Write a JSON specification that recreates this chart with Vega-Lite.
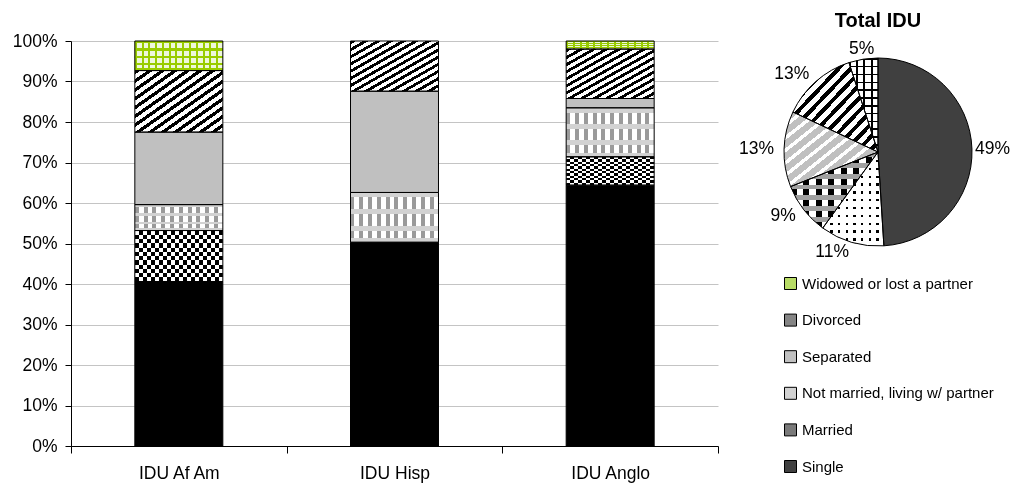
{
"$schema": "https://vega.github.io/schema/vega-lite/v6.json",
"padding": {"left": 12, "top": 11, "right": 0, "bottom": 2},
"background": "white",
"config": {"view": {"stroke": null}, "font": "Liberation Sans"},
"bounds": "flush",
"spacing": 49,
"resolve": {"scale": {"color": "independent"}, "legend": {"color": "independent"}},
"datasets": {
"bars": [
{"g":"IDU Af Am","s":"Single","k":1,"v":40.6},
{"g":"IDU Af Am","s":"Married","k":2,"v":12.6},
{"g":"IDU Af Am","s":"Not married, living w/ partner","k":3,"v":6.4},
{"g":"IDU Af Am","s":"Separated","k":4,"v":17.9},
{"g":"IDU Af Am","s":"Divorced","k":5,"v":15.2},
{"g":"IDU Af Am","s":"Widowed or lost a partner","k":6,"v":7.3},
{"g":"IDU Hisp","s":"Single","k":1,"v":50.3},
{"g":"IDU Hisp","s":"Not married, living w/ partner","k":3,"v":12.3},
{"g":"IDU Hisp","s":"Separated","k":4,"v":25.0},
{"g":"IDU Hisp","s":"Divorced","k":5,"v":12.4},
{"g":"IDU Anglo","s":"Single","k":1,"v":64.4},
{"g":"IDU Anglo","s":"Married","k":2,"v":7.0},
{"g":"IDU Anglo","s":"Not married, living w/ partner","k":3,"v":12.1},
{"g":"IDU Anglo","s":"Separated","k":4,"v":2.3},
{"g":"IDU Anglo","s":"Divorced","k":5,"v":12.2},
{"g":"IDU Anglo","s":"Widowed or lost a partner","k":6,"v":2.0}
],
"pie": [
{"s":"Single","k":1,"v":49},
{"s":"Married","k":2,"v":11},
{"s":"Not married, living w/ partner","k":3,"v":9},
{"s":"Separated","k":4,"v":13},
{"s":"Divorced","k":5,"v":13},
{"s":"Widowed or lost a partner","k":6,"v":5}
]
},
"hconcat": [
{
"width": 647,
"height": 405,
"data": {"name": "bars"},
"transform": [{"stack": "v", "groupby": ["g"], "sort": [{"field": "k", "order": "ascending"}], "as": ["y0", "y1"]}],
"encoding": {
"x": {"field": "g", "type": "nominal", "sort": ["IDU Af Am", "IDU Hisp", "IDU Anglo"],
"scale": {"paddingInner": 0, "paddingOuter": 0},
"axis": {"title": null, "labelAngle": 0, "tickBand": "extent", "tickSize": 7, "tickColor": "#000", "domainColor": "#000", "labelColor": "#000", "labelFontSize": 17.5, "labelPadding": 11, "grid": false}},
"y": {"field": "y0", "type": "quantitative", "scale": {"domain": [0, 100], "nice": false},
"axis": {"title": null, "values": [0,10,20,30,40,50,60,70,80,90,100], "labelExpr": "datum.value + '%'", "grid": true, "gridColor": "#c4c4c4", "tickColor": "#000", "domainColor": "#000", "tickSize": 6, "labelColor": "#000", "labelFontSize": 17.5, "labelPadding": 8}},
"y2": {"field": "y1"}
},
"layer": [
{"mark": {"type": "bar", "stroke": null, "width": {"band": 0.408}},
"encoding": {"color": {"field": "s", "type": "nominal", "legend": null,
"scale": {"domain": ["Single", "Married", "Not married, living w/ partner", "Separated", "Divorced", "Widowed or lost a partner"],
"range": ["#000000", "#ffffff", "#ffffff", "#c0c0c0", "#ffffff", "#eef7dc"]}}}},
{"transform": [{"filter": "datum.s === 'Divorced'"}],
"mark": {"type": "bar", "stroke": null, "width": {"band": 0.408}, "fill": {"gradient":"linear","x1":0,"y1":0,"x2":1,"y2":1,"stops":[
{"offset":0,"color":"#000"},{"offset":0.0321,"color":"#000"},{"offset":0.0321,"color":"#fff"},{"offset":0.0714,"color":"#fff"},
{"offset":0.0714,"color":"#000"},{"offset":0.1036,"color":"#000"},{"offset":0.1036,"color":"#fff"},{"offset":0.1429,"color":"#fff"},
{"offset":0.1429,"color":"#000"},{"offset":0.175,"color":"#000"},{"offset":0.175,"color":"#fff"},{"offset":0.2143,"color":"#fff"},
{"offset":0.2143,"color":"#000"},{"offset":0.2464,"color":"#000"},{"offset":0.2464,"color":"#fff"},{"offset":0.2857,"color":"#fff"},
{"offset":0.2857,"color":"#000"},{"offset":0.3179,"color":"#000"},{"offset":0.3179,"color":"#fff"},{"offset":0.3571,"color":"#fff"},
{"offset":0.3571,"color":"#000"},{"offset":0.3893,"color":"#000"},{"offset":0.3893,"color":"#fff"},{"offset":0.4286,"color":"#fff"},
{"offset":0.4286,"color":"#000"},{"offset":0.4607,"color":"#000"},{"offset":0.4607,"color":"#fff"},{"offset":0.5,"color":"#fff"},
{"offset":0.5,"color":"#000"},{"offset":0.5321,"color":"#000"},{"offset":0.5321,"color":"#fff"},{"offset":0.5714,"color":"#fff"},
{"offset":0.5714,"color":"#000"},{"offset":0.6036,"color":"#000"},{"offset":0.6036,"color":"#fff"},{"offset":0.6429,"color":"#fff"},
{"offset":0.6429,"color":"#000"},{"offset":0.675,"color":"#000"},{"offset":0.675,"color":"#fff"},{"offset":0.7143,"color":"#fff"},
{"offset":0.7143,"color":"#000"},{"offset":0.7464,"color":"#000"},{"offset":0.7464,"color":"#fff"},{"offset":0.7857,"color":"#fff"},
{"offset":0.7857,"color":"#000"},{"offset":0.8179,"color":"#000"},{"offset":0.8179,"color":"#fff"},{"offset":0.8571,"color":"#fff"},
{"offset":0.8571,"color":"#000"},{"offset":0.8893,"color":"#000"},{"offset":0.8893,"color":"#fff"},{"offset":0.9286,"color":"#fff"},
{"offset":0.9286,"color":"#000"},{"offset":0.9607,"color":"#000"},{"offset":0.9607,"color":"#fff"},{"offset":1,"color":"#fff"}]}}},
{"transform": [{"filter": "datum.s === 'Widowed or lost a partner'"}],
"mark": {"type": "bar", "stroke": null, "width": {"band": 0.408}, "fill": {"gradient":"linear","x1":0,"y1":0,"x2":1,"y2":0,"stops":[
{"offset":0,"color":"#99cc00"},{"offset":0.0231,"color":"#99cc00"},{"offset":0.0231,"color":"rgba(0,0,0,0)"},{"offset":0.0769,"color":"rgba(0,0,0,0)"},
{"offset":0.0769,"color":"#99cc00"},{"offset":0.1,"color":"#99cc00"},{"offset":0.1,"color":"rgba(0,0,0,0)"},{"offset":0.1538,"color":"rgba(0,0,0,0)"},
{"offset":0.1538,"color":"#99cc00"},{"offset":0.1769,"color":"#99cc00"},{"offset":0.1769,"color":"rgba(0,0,0,0)"},{"offset":0.2308,"color":"rgba(0,0,0,0)"},
{"offset":0.2308,"color":"#99cc00"},{"offset":0.2538,"color":"#99cc00"},{"offset":0.2538,"color":"rgba(0,0,0,0)"},{"offset":0.3077,"color":"rgba(0,0,0,0)"},
{"offset":0.3077,"color":"#99cc00"},{"offset":0.3308,"color":"#99cc00"},{"offset":0.3308,"color":"rgba(0,0,0,0)"},{"offset":0.3846,"color":"rgba(0,0,0,0)"},
{"offset":0.3846,"color":"#99cc00"},{"offset":0.4077,"color":"#99cc00"},{"offset":0.4077,"color":"rgba(0,0,0,0)"},{"offset":0.4615,"color":"rgba(0,0,0,0)"},
{"offset":0.4615,"color":"#99cc00"},{"offset":0.4846,"color":"#99cc00"},{"offset":0.4846,"color":"rgba(0,0,0,0)"},{"offset":0.5385,"color":"rgba(0,0,0,0)"},
{"offset":0.5385,"color":"#99cc00"},{"offset":0.5615,"color":"#99cc00"},{"offset":0.5615,"color":"rgba(0,0,0,0)"},{"offset":0.6154,"color":"rgba(0,0,0,0)"},
{"offset":0.6154,"color":"#99cc00"},{"offset":0.6385,"color":"#99cc00"},{"offset":0.6385,"color":"rgba(0,0,0,0)"},{"offset":0.6923,"color":"rgba(0,0,0,0)"},
{"offset":0.6923,"color":"#99cc00"},{"offset":0.7154,"color":"#99cc00"},{"offset":0.7154,"color":"rgba(0,0,0,0)"},{"offset":0.7692,"color":"rgba(0,0,0,0)"},
{"offset":0.7692,"color":"#99cc00"},{"offset":0.7923,"color":"#99cc00"},{"offset":0.7923,"color":"rgba(0,0,0,0)"},{"offset":0.8462,"color":"rgba(0,0,0,0)"},
{"offset":0.8462,"color":"#99cc00"},{"offset":0.8692,"color":"#99cc00"},{"offset":0.8692,"color":"rgba(0,0,0,0)"},{"offset":0.9231,"color":"rgba(0,0,0,0)"},
{"offset":0.9231,"color":"#99cc00"},{"offset":0.9462,"color":"#99cc00"},{"offset":0.9462,"color":"rgba(0,0,0,0)"},{"offset":1,"color":"rgba(0,0,0,0)"}]}}},
{"transform": [{"filter": "datum.s === 'Widowed or lost a partner'"}],
"mark": {"type": "bar", "stroke": null, "width": {"band": 0.408}, "fill": {"gradient":"linear","x1":0,"y1":0,"x2":0,"y2":1,"stops":[
{"offset":0,"color":"#99cc00"},{"offset":0.075,"color":"#99cc00"},{"offset":0.075,"color":"rgba(0,0,0,0)"},{"offset":0.25,"color":"rgba(0,0,0,0)"},
{"offset":0.25,"color":"#99cc00"},{"offset":0.325,"color":"#99cc00"},{"offset":0.325,"color":"rgba(0,0,0,0)"},{"offset":0.5,"color":"rgba(0,0,0,0)"},
{"offset":0.5,"color":"#99cc00"},{"offset":0.575,"color":"#99cc00"},{"offset":0.575,"color":"rgba(0,0,0,0)"},{"offset":0.75,"color":"rgba(0,0,0,0)"},
{"offset":0.75,"color":"#99cc00"},{"offset":0.825,"color":"#99cc00"},{"offset":0.825,"color":"rgba(0,0,0,0)"},{"offset":0.93,"color":"rgba(0,0,0,0)"},
{"offset":0.93,"color":"#99cc00"},{"offset":1,"color":"#99cc00"}]}}},
{"transform": [{"filter": "datum.s === 'Not married, living w/ partner'"}],
"mark": {"type": "bar", "stroke": null, "width": {"band": 0.408}, "fill": {"gradient":"linear","x1":0,"y1":0,"x2":1,"y2":0,"stops":[
{"offset":0,"color":"#9a9a9a"},{"offset":0.045,"color":"#9a9a9a"},{"offset":0.045,"color":"#fff"},{"offset":0.1,"color":"#fff"},
{"offset":0.1,"color":"#9a9a9a"},{"offset":0.145,"color":"#9a9a9a"},{"offset":0.145,"color":"#fff"},{"offset":0.2,"color":"#fff"},
{"offset":0.2,"color":"#9a9a9a"},{"offset":0.245,"color":"#9a9a9a"},{"offset":0.245,"color":"#fff"},{"offset":0.3,"color":"#fff"},
{"offset":0.3,"color":"#9a9a9a"},{"offset":0.345,"color":"#9a9a9a"},{"offset":0.345,"color":"#fff"},{"offset":0.4,"color":"#fff"},
{"offset":0.4,"color":"#9a9a9a"},{"offset":0.445,"color":"#9a9a9a"},{"offset":0.445,"color":"#fff"},{"offset":0.5,"color":"#fff"},
{"offset":0.5,"color":"#9a9a9a"},{"offset":0.545,"color":"#9a9a9a"},{"offset":0.545,"color":"#fff"},{"offset":0.6,"color":"#fff"},
{"offset":0.6,"color":"#9a9a9a"},{"offset":0.645,"color":"#9a9a9a"},{"offset":0.645,"color":"#fff"},{"offset":0.7,"color":"#fff"},
{"offset":0.7,"color":"#9a9a9a"},{"offset":0.745,"color":"#9a9a9a"},{"offset":0.745,"color":"#fff"},{"offset":0.8,"color":"#fff"},
{"offset":0.8,"color":"#9a9a9a"},{"offset":0.845,"color":"#9a9a9a"},{"offset":0.845,"color":"#fff"},{"offset":0.9,"color":"#fff"},
{"offset":0.9,"color":"#9a9a9a"},{"offset":0.945,"color":"#9a9a9a"},{"offset":0.945,"color":"#fff"},{"offset":1,"color":"#fff"}]}}},
{"transform": [{"filter": "datum.s === 'Not married, living w/ partner'"}],
"mark": {"type": "bar", "stroke": null, "width": {"band": 0.408}, "fill": {"gradient":"linear","x1":0,"y1":0,"x2":0,"y2":1,"stops":[
{"offset":0,"color":"#d2d2d2"},{"offset":0.1,"color":"#d2d2d2"},{"offset":0.1,"color":"rgba(0,0,0,0)"},{"offset":0.3333,"color":"rgba(0,0,0,0)"},
{"offset":0.3333,"color":"#d2d2d2"},{"offset":0.4333,"color":"#d2d2d2"},{"offset":0.4333,"color":"rgba(0,0,0,0)"},{"offset":0.6667,"color":"rgba(0,0,0,0)"},
{"offset":0.6667,"color":"#d2d2d2"},{"offset":0.7667,"color":"#d2d2d2"},{"offset":0.7667,"color":"rgba(0,0,0,0)"},{"offset":0.92,"color":"rgba(0,0,0,0)"},
{"offset":0.92,"color":"#d2d2d2"},{"offset":1,"color":"#d2d2d2"}]}}},
{"transform": [{"filter": "datum.s === 'Married'"}],
"mark": {"type": "bar", "stroke": null, "width": {"band": 0.408}, "fill": {"gradient":"linear","x1":0,"y1":0,"x2":1,"y2":0,"stops":[
{"offset":0,"color":"#000"},{"offset":0.0455,"color":"#000"},{"offset":0.0455,"color":"#fff"},{"offset":0.0909,"color":"#fff"},
{"offset":0.0909,"color":"#000"},{"offset":0.1364,"color":"#000"},{"offset":0.1364,"color":"#fff"},{"offset":0.1818,"color":"#fff"},
{"offset":0.1818,"color":"#000"},{"offset":0.2273,"color":"#000"},{"offset":0.2273,"color":"#fff"},{"offset":0.2727,"color":"#fff"},
{"offset":0.2727,"color":"#000"},{"offset":0.3182,"color":"#000"},{"offset":0.3182,"color":"#fff"},{"offset":0.3636,"color":"#fff"},
{"offset":0.3636,"color":"#000"},{"offset":0.4091,"color":"#000"},{"offset":0.4091,"color":"#fff"},{"offset":0.4545,"color":"#fff"},
{"offset":0.4545,"color":"#000"},{"offset":0.5,"color":"#000"},{"offset":0.5,"color":"#fff"},{"offset":0.5455,"color":"#fff"},
{"offset":0.5455,"color":"#000"},{"offset":0.5909,"color":"#000"},{"offset":0.5909,"color":"#fff"},{"offset":0.6364,"color":"#fff"},
{"offset":0.6364,"color":"#000"},{"offset":0.6818,"color":"#000"},{"offset":0.6818,"color":"#fff"},{"offset":0.7273,"color":"#fff"},
{"offset":0.7273,"color":"#000"},{"offset":0.7727,"color":"#000"},{"offset":0.7727,"color":"#fff"},{"offset":0.8182,"color":"#fff"},
{"offset":0.8182,"color":"#000"},{"offset":0.8636,"color":"#000"},{"offset":0.8636,"color":"#fff"},{"offset":0.9091,"color":"#fff"},
{"offset":0.9091,"color":"#000"},{"offset":0.9545,"color":"#000"},{"offset":0.9545,"color":"#fff"},{"offset":1,"color":"#fff"}]}}},
{"transform": [{"filter": "datum.s === 'Married'"}],
"mark": {"type": "bar", "stroke": null, "width": {"band": 0.408}, "blend": "difference", "fill": {"gradient":"linear","x1":0,"y1":0,"x2":0,"y2":1,"stops":[
{"offset":0,"color":"#fff"},{"offset":0.0833,"color":"#fff"},{"offset":0.0833,"color":"rgba(0,0,0,0)"},{"offset":0.1667,"color":"rgba(0,0,0,0)"},
{"offset":0.1667,"color":"#fff"},{"offset":0.25,"color":"#fff"},{"offset":0.25,"color":"rgba(0,0,0,0)"},{"offset":0.3333,"color":"rgba(0,0,0,0)"},
{"offset":0.3333,"color":"#fff"},{"offset":0.4167,"color":"#fff"},{"offset":0.4167,"color":"rgba(0,0,0,0)"},{"offset":0.5,"color":"rgba(0,0,0,0)"},
{"offset":0.5,"color":"#fff"},{"offset":0.5833,"color":"#fff"},{"offset":0.5833,"color":"rgba(0,0,0,0)"},{"offset":0.6667,"color":"rgba(0,0,0,0)"},
{"offset":0.6667,"color":"#fff"},{"offset":0.75,"color":"#fff"},{"offset":0.75,"color":"rgba(0,0,0,0)"},{"offset":0.8333,"color":"rgba(0,0,0,0)"},
{"offset":0.8333,"color":"#fff"},{"offset":0.9167,"color":"#fff"},{"offset":0.9167,"color":"rgba(0,0,0,0)"},{"offset":1,"color":"rgba(0,0,0,0)"}]}}},
{"mark": {"type": "bar", "filled": false, "stroke": "#000", "strokeWidth": 1, "width": {"band": 0.408}}}
]
},
{
"width": 222,
"height": 222,
"data": {"name": "pie"},
"title": {"text": "Total IDU", "fontSize": 20, "fontWeight": "bold", "color": "#000", "anchor": "middle", "offset": 9},
"transform": [
{"stack": "v", "groupby": [], "sort": [{"field": "k", "order": "ascending"}], "as": ["p0", "p1"]},
{"calculate": "(datum.p0 + datum.p1) / 2", "as": "pm"},
{"calculate": "datum.v + '%'", "as": "lab"}
],
"layer": [
{
"encoding": {
"theta": {"field": "p0", "type": "quantitative", "stack": null, "scale": {"domain": [0, 100], "range": [0, 6.283185307]}},
"theta2": {"field": "p1"}
},
"layer": [
{"mark": {"type": "arc", "radius": 94, "stroke": null},
"encoding": {"color": {"field": "s", "type": "nominal",
"scale": {"domain": ["Widowed or lost a partner", "Divorced", "Separated", "Not married, living w/ partner", "Married", "Single"],
"range": ["#b8dc66", "#858585", "#c0c0c0", "#d2d2d2", "#7a7a7a", "#404040"]},
"legend": {"orient": "none", "legendX": 16, "legendY": 235, "title": null, "symbolType": "square", "symbolSize": 144, "symbolStrokeColor": "#000", "symbolStrokeWidth": 1, "symbolOpacity": 1, "labelFontSize": 15, "labelColor": "#000", "labelOffset": 4, "rowPadding": 19.6, "labelLimit": 400}}}},
{"transform": [{"filter": "datum.s === 'Separated'"}],
"mark": {"type": "arc", "radius": 94, "stroke": null, "fill": {"gradient":"linear","x1":0,"y1":0,"x2":1,"y2":1,"stops":[
{"offset":0,"color":"#fff"},{"offset":0.0292,"color":"#fff"},{"offset":0.0292,"color":"#c0c0c0"},{"offset":0.0833,"color":"#c0c0c0"},
{"offset":0.0833,"color":"#fff"},{"offset":0.1125,"color":"#fff"},{"offset":0.1125,"color":"#c0c0c0"},{"offset":0.1667,"color":"#c0c0c0"},
{"offset":0.1667,"color":"#fff"},{"offset":0.1958,"color":"#fff"},{"offset":0.1958,"color":"#c0c0c0"},{"offset":0.25,"color":"#c0c0c0"},
{"offset":0.25,"color":"#fff"},{"offset":0.2792,"color":"#fff"},{"offset":0.2792,"color":"#c0c0c0"},{"offset":0.3333,"color":"#c0c0c0"},
{"offset":0.3333,"color":"#fff"},{"offset":0.3625,"color":"#fff"},{"offset":0.3625,"color":"#c0c0c0"},{"offset":0.4167,"color":"#c0c0c0"},
{"offset":0.4167,"color":"#fff"},{"offset":0.4458,"color":"#fff"},{"offset":0.4458,"color":"#c0c0c0"},{"offset":0.5,"color":"#c0c0c0"},
{"offset":0.5,"color":"#fff"},{"offset":0.5292,"color":"#fff"},{"offset":0.5292,"color":"#c0c0c0"},{"offset":0.5833,"color":"#c0c0c0"},
{"offset":0.5833,"color":"#fff"},{"offset":0.6125,"color":"#fff"},{"offset":0.6125,"color":"#c0c0c0"},{"offset":0.6667,"color":"#c0c0c0"},
{"offset":0.6667,"color":"#fff"},{"offset":0.6958,"color":"#fff"},{"offset":0.6958,"color":"#c0c0c0"},{"offset":0.75,"color":"#c0c0c0"},
{"offset":0.75,"color":"#fff"},{"offset":0.7792,"color":"#fff"},{"offset":0.7792,"color":"#c0c0c0"},{"offset":0.8333,"color":"#c0c0c0"},
{"offset":0.8333,"color":"#fff"},{"offset":0.8625,"color":"#fff"},{"offset":0.8625,"color":"#c0c0c0"},{"offset":0.9167,"color":"#c0c0c0"},
{"offset":0.9167,"color":"#fff"},{"offset":0.9458,"color":"#fff"},{"offset":0.9458,"color":"#c0c0c0"},{"offset":1,"color":"#c0c0c0"}]}}},
{"transform": [{"filter": "datum.s === 'Divorced'"}],
"mark": {"type": "arc", "radius": 94, "stroke": null, "fill": {"gradient":"linear","x1":0,"y1":0,"x2":1,"y2":1,"stops":[
{"offset":0,"color":"#000"},{"offset":0.0321,"color":"#000"},{"offset":0.0321,"color":"#fff"},{"offset":0.0714,"color":"#fff"},
{"offset":0.0714,"color":"#000"},{"offset":0.1036,"color":"#000"},{"offset":0.1036,"color":"#fff"},{"offset":0.1429,"color":"#fff"},
{"offset":0.1429,"color":"#000"},{"offset":0.175,"color":"#000"},{"offset":0.175,"color":"#fff"},{"offset":0.2143,"color":"#fff"},
{"offset":0.2143,"color":"#000"},{"offset":0.2464,"color":"#000"},{"offset":0.2464,"color":"#fff"},{"offset":0.2857,"color":"#fff"},
{"offset":0.2857,"color":"#000"},{"offset":0.3179,"color":"#000"},{"offset":0.3179,"color":"#fff"},{"offset":0.3571,"color":"#fff"},
{"offset":0.3571,"color":"#000"},{"offset":0.3893,"color":"#000"},{"offset":0.3893,"color":"#fff"},{"offset":0.4286,"color":"#fff"},
{"offset":0.4286,"color":"#000"},{"offset":0.4607,"color":"#000"},{"offset":0.4607,"color":"#fff"},{"offset":0.5,"color":"#fff"},
{"offset":0.5,"color":"#000"},{"offset":0.5321,"color":"#000"},{"offset":0.5321,"color":"#fff"},{"offset":0.5714,"color":"#fff"},
{"offset":0.5714,"color":"#000"},{"offset":0.6036,"color":"#000"},{"offset":0.6036,"color":"#fff"},{"offset":0.6429,"color":"#fff"},
{"offset":0.6429,"color":"#000"},{"offset":0.675,"color":"#000"},{"offset":0.675,"color":"#fff"},{"offset":0.7143,"color":"#fff"},
{"offset":0.7143,"color":"#000"},{"offset":0.7464,"color":"#000"},{"offset":0.7464,"color":"#fff"},{"offset":0.7857,"color":"#fff"},
{"offset":0.7857,"color":"#000"},{"offset":0.8179,"color":"#000"},{"offset":0.8179,"color":"#fff"},{"offset":0.8571,"color":"#fff"},
{"offset":0.8571,"color":"#000"},{"offset":0.8893,"color":"#000"},{"offset":0.8893,"color":"#fff"},{"offset":0.9286,"color":"#fff"},
{"offset":0.9286,"color":"#000"},{"offset":0.9607,"color":"#000"},{"offset":0.9607,"color":"#fff"},{"offset":1,"color":"#fff"}]}}},
{"transform": [{"filter": "datum.s === 'Not married, living w/ partner'"}],
"mark": {"type": "arc", "radius": 94, "stroke": null, "fill": {"gradient":"linear","x1":0,"y1":0,"x2":1,"y2":0,"stops":[
{"offset":0,"color":"#000"},{"offset":0.0714,"color":"#000"},{"offset":0.0714,"color":"#fff"},{"offset":0.1429,"color":"#fff"},
{"offset":0.1429,"color":"#000"},{"offset":0.2143,"color":"#000"},{"offset":0.2143,"color":"#fff"},{"offset":0.2857,"color":"#fff"},
{"offset":0.2857,"color":"#000"},{"offset":0.3571,"color":"#000"},{"offset":0.3571,"color":"#fff"},{"offset":0.4286,"color":"#fff"},
{"offset":0.4286,"color":"#000"},{"offset":0.5,"color":"#000"},{"offset":0.5,"color":"#fff"},{"offset":0.5714,"color":"#fff"},
{"offset":0.5714,"color":"#000"},{"offset":0.6429,"color":"#000"},{"offset":0.6429,"color":"#fff"},{"offset":0.7143,"color":"#fff"},
{"offset":0.7143,"color":"#000"},{"offset":0.7857,"color":"#000"},{"offset":0.7857,"color":"#fff"},{"offset":0.8571,"color":"#fff"},
{"offset":0.8571,"color":"#000"},{"offset":0.9286,"color":"#000"},{"offset":0.9286,"color":"#fff"},{"offset":1,"color":"#fff"}]}}},
{"transform": [{"filter": "datum.s === 'Not married, living w/ partner'"}],
"mark": {"type": "arc", "radius": 94, "stroke": null, "fill": {"gradient":"linear","x1":0,"y1":0,"x2":0,"y2":1,"stops":[
{"offset":0,"color":"#a0a0a0"},{"offset":0.0643,"color":"#a0a0a0"},{"offset":0.0643,"color":"rgba(0,0,0,0)"},{"offset":0.1429,"color":"rgba(0,0,0,0)"},
{"offset":0.1429,"color":"#a0a0a0"},{"offset":0.2071,"color":"#a0a0a0"},{"offset":0.2071,"color":"rgba(0,0,0,0)"},{"offset":0.2857,"color":"rgba(0,0,0,0)"},
{"offset":0.2857,"color":"#a0a0a0"},{"offset":0.35,"color":"#a0a0a0"},{"offset":0.35,"color":"rgba(0,0,0,0)"},{"offset":0.4286,"color":"rgba(0,0,0,0)"},
{"offset":0.4286,"color":"#a0a0a0"},{"offset":0.4929,"color":"#a0a0a0"},{"offset":0.4929,"color":"rgba(0,0,0,0)"},{"offset":0.5714,"color":"rgba(0,0,0,0)"},
{"offset":0.5714,"color":"#a0a0a0"},{"offset":0.6357,"color":"#a0a0a0"},{"offset":0.6357,"color":"rgba(0,0,0,0)"},{"offset":0.7143,"color":"rgba(0,0,0,0)"},
{"offset":0.7143,"color":"#a0a0a0"},{"offset":0.7786,"color":"#a0a0a0"},{"offset":0.7786,"color":"rgba(0,0,0,0)"},{"offset":0.8571,"color":"rgba(0,0,0,0)"},
{"offset":0.8571,"color":"#a0a0a0"},{"offset":0.9214,"color":"#a0a0a0"},{"offset":0.9214,"color":"rgba(0,0,0,0)"},{"offset":1,"color":"rgba(0,0,0,0)"}]}}},
{"transform": [{"filter": "datum.s === 'Married'"}],
"mark": {"type": "arc", "radius": 94, "stroke": null, "fill": {"gradient":"linear","x1":0,"y1":0,"x2":1,"y2":0,"stops":[
{"offset":0,"color":"#000"},{"offset":0.0375,"color":"#000"},{"offset":0.0375,"color":"#fff"},{"offset":0.125,"color":"#fff"},
{"offset":0.125,"color":"#000"},{"offset":0.1625,"color":"#000"},{"offset":0.1625,"color":"#fff"},{"offset":0.25,"color":"#fff"},
{"offset":0.25,"color":"#000"},{"offset":0.2875,"color":"#000"},{"offset":0.2875,"color":"#fff"},{"offset":0.375,"color":"#fff"},
{"offset":0.375,"color":"#000"},{"offset":0.4125,"color":"#000"},{"offset":0.4125,"color":"#fff"},{"offset":0.5,"color":"#fff"},
{"offset":0.5,"color":"#000"},{"offset":0.5375,"color":"#000"},{"offset":0.5375,"color":"#fff"},{"offset":0.625,"color":"#fff"},
{"offset":0.625,"color":"#000"},{"offset":0.6625,"color":"#000"},{"offset":0.6625,"color":"#fff"},{"offset":0.75,"color":"#fff"},
{"offset":0.75,"color":"#000"},{"offset":0.7875,"color":"#000"},{"offset":0.7875,"color":"#fff"},{"offset":0.875,"color":"#fff"},
{"offset":0.875,"color":"#000"},{"offset":0.9125,"color":"#000"},{"offset":0.9125,"color":"#fff"},{"offset":1,"color":"#fff"}]}}},
{"transform": [{"filter": "datum.s === 'Married'"}],
"mark": {"type": "arc", "radius": 94, "stroke": null, "blend": "lighten", "fill": {"gradient":"linear","x1":0,"y1":0,"x2":0,"y2":1,"stops":[
{"offset":0,"color":"rgba(0,0,0,0)"},{"offset":0.025,"color":"rgba(0,0,0,0)"},{"offset":0.025,"color":"#fff"},{"offset":0.0833,"color":"#fff"},
{"offset":0.0833,"color":"rgba(0,0,0,0)"},{"offset":0.1083,"color":"rgba(0,0,0,0)"},{"offset":0.1083,"color":"#fff"},{"offset":0.1667,"color":"#fff"},
{"offset":0.1667,"color":"rgba(0,0,0,0)"},{"offset":0.1917,"color":"rgba(0,0,0,0)"},{"offset":0.1917,"color":"#fff"},{"offset":0.25,"color":"#fff"},
{"offset":0.25,"color":"rgba(0,0,0,0)"},{"offset":0.275,"color":"rgba(0,0,0,0)"},{"offset":0.275,"color":"#fff"},{"offset":0.3333,"color":"#fff"},
{"offset":0.3333,"color":"rgba(0,0,0,0)"},{"offset":0.3583,"color":"rgba(0,0,0,0)"},{"offset":0.3583,"color":"#fff"},{"offset":0.4167,"color":"#fff"},
{"offset":0.4167,"color":"rgba(0,0,0,0)"},{"offset":0.4417,"color":"rgba(0,0,0,0)"},{"offset":0.4417,"color":"#fff"},{"offset":0.5,"color":"#fff"},
{"offset":0.5,"color":"rgba(0,0,0,0)"},{"offset":0.525,"color":"rgba(0,0,0,0)"},{"offset":0.525,"color":"#fff"},{"offset":0.5833,"color":"#fff"},
{"offset":0.5833,"color":"rgba(0,0,0,0)"},{"offset":0.6083,"color":"rgba(0,0,0,0)"},{"offset":0.6083,"color":"#fff"},{"offset":0.6667,"color":"#fff"},
{"offset":0.6667,"color":"rgba(0,0,0,0)"},{"offset":0.6917,"color":"rgba(0,0,0,0)"},{"offset":0.6917,"color":"#fff"},{"offset":0.75,"color":"#fff"},
{"offset":0.75,"color":"rgba(0,0,0,0)"},{"offset":0.775,"color":"rgba(0,0,0,0)"},{"offset":0.775,"color":"#fff"},{"offset":0.8333,"color":"#fff"},
{"offset":0.8333,"color":"rgba(0,0,0,0)"},{"offset":0.8583,"color":"rgba(0,0,0,0)"},{"offset":0.8583,"color":"#fff"},{"offset":0.9167,"color":"#fff"},
{"offset":0.9167,"color":"rgba(0,0,0,0)"},{"offset":0.9417,"color":"rgba(0,0,0,0)"},{"offset":0.9417,"color":"#fff"},{"offset":1,"color":"#fff"}]}}},
{"transform": [{"filter": "datum.s === 'Widowed or lost a partner'"}],
"mark": {"type": "arc", "radius": 94, "stroke": null, "fill": {"gradient":"linear","x1":0,"y1":0,"x2":1,"y2":0,"stops":[
{"offset":0,"color":"#000"},{"offset":0.0625,"color":"#000"},{"offset":0.0625,"color":"#fff"},{"offset":0.25,"color":"#fff"},
{"offset":0.25,"color":"#000"},{"offset":0.3125,"color":"#000"},{"offset":0.3125,"color":"#fff"},{"offset":0.5,"color":"#fff"},
{"offset":0.5,"color":"#000"},{"offset":0.5625,"color":"#000"},{"offset":0.5625,"color":"#fff"},{"offset":0.75,"color":"#fff"},
{"offset":0.75,"color":"#000"},{"offset":0.8125,"color":"#000"},{"offset":0.8125,"color":"#fff"},{"offset":1,"color":"#fff"}]}}},
{"transform": [{"filter": "datum.s === 'Widowed or lost a partner'"}],
"mark": {"type": "arc", "radius": 94, "stroke": null, "fill": {"gradient":"linear","x1":0,"y1":0,"x2":0,"y2":1,"stops":[
{"offset":0,"color":"#000"},{"offset":0.0167,"color":"#000"},{"offset":0.0167,"color":"rgba(0,0,0,0)"},{"offset":0.0833,"color":"rgba(0,0,0,0)"},
{"offset":0.0833,"color":"#000"},{"offset":0.1,"color":"#000"},{"offset":0.1,"color":"rgba(0,0,0,0)"},{"offset":0.1667,"color":"rgba(0,0,0,0)"},
{"offset":0.1667,"color":"#000"},{"offset":0.1833,"color":"#000"},{"offset":0.1833,"color":"rgba(0,0,0,0)"},{"offset":0.25,"color":"rgba(0,0,0,0)"},
{"offset":0.25,"color":"#000"},{"offset":0.2667,"color":"#000"},{"offset":0.2667,"color":"rgba(0,0,0,0)"},{"offset":0.3333,"color":"rgba(0,0,0,0)"},
{"offset":0.3333,"color":"#000"},{"offset":0.35,"color":"#000"},{"offset":0.35,"color":"rgba(0,0,0,0)"},{"offset":0.4167,"color":"rgba(0,0,0,0)"},
{"offset":0.4167,"color":"#000"},{"offset":0.4333,"color":"#000"},{"offset":0.4333,"color":"rgba(0,0,0,0)"},{"offset":0.5,"color":"rgba(0,0,0,0)"},
{"offset":0.5,"color":"#000"},{"offset":0.5167,"color":"#000"},{"offset":0.5167,"color":"rgba(0,0,0,0)"},{"offset":0.5833,"color":"rgba(0,0,0,0)"},
{"offset":0.5833,"color":"#000"},{"offset":0.6,"color":"#000"},{"offset":0.6,"color":"rgba(0,0,0,0)"},{"offset":0.6667,"color":"rgba(0,0,0,0)"},
{"offset":0.6667,"color":"#000"},{"offset":0.6833,"color":"#000"},{"offset":0.6833,"color":"rgba(0,0,0,0)"},{"offset":0.75,"color":"rgba(0,0,0,0)"},
{"offset":0.75,"color":"#000"},{"offset":0.7667,"color":"#000"},{"offset":0.7667,"color":"rgba(0,0,0,0)"},{"offset":0.8333,"color":"rgba(0,0,0,0)"},
{"offset":0.8333,"color":"#000"},{"offset":0.85,"color":"#000"},{"offset":0.85,"color":"rgba(0,0,0,0)"},{"offset":0.9167,"color":"rgba(0,0,0,0)"},
{"offset":0.9167,"color":"#000"},{"offset":0.9333,"color":"#000"},{"offset":0.9333,"color":"rgba(0,0,0,0)"},{"offset":1,"color":"rgba(0,0,0,0)"}]}}},
{"mark": {"type": "arc", "radius": 94, "filled": false, "stroke": "#000", "strokeWidth": 1}}
]
},
{
"mark": {"type": "text", "fontSize": 17.5, "color": "#000", "baseline": "middle",
"radius": {"expr": "datum.pm < 50 ? 97 : 104"},
"align": {"expr": "datum.pm < 50 ? 'left' : datum.pm < 92 ? 'right' : 'center'"}},
"encoding": {
"theta": {"field": "pm", "type": "quantitative", "stack": null, "scale": {"domain": [0, 100], "range": [0, 6.283185307]}},
"text": {"field": "lab", "type": "nominal"}
}
}
]
}
]
}
